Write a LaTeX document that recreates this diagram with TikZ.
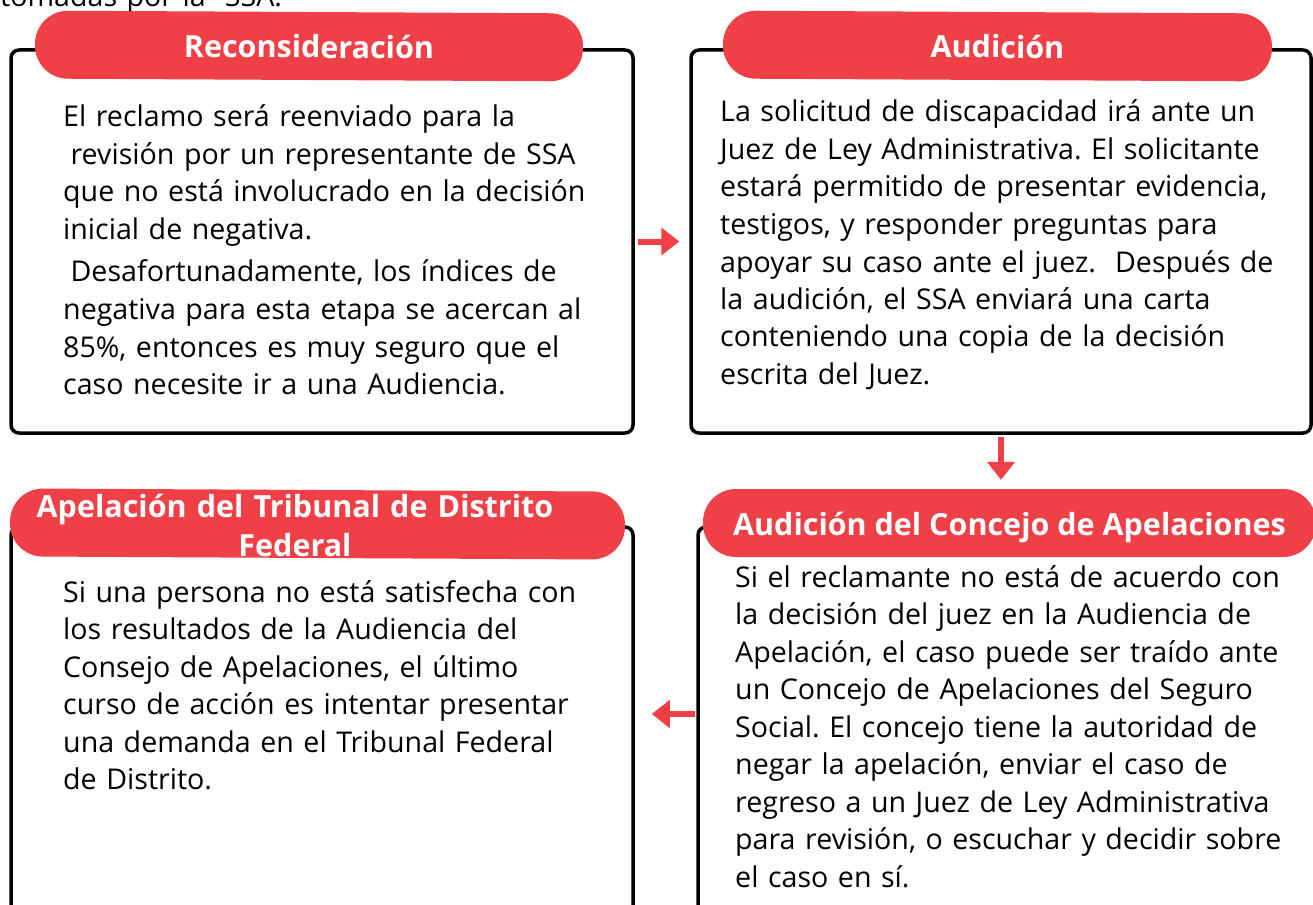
\documentclass[tikz,border=0pt]{standalone}
\usepackage{fontspec}
\setmainfont{Open Sans}
\usetikzlibrary{arrows.meta}
\frenchspacing
\definecolor{pillred}{RGB}{238,64,70}
\tikzstyle{box} = [draw, line width=3.5pt, rounded corners=8pt, inner sep=0pt]
\tikzstyle{pill} = [fill=pillred, rounded corners=33pt, minimum height=68pt, inner sep=0pt, text=white, font=\bfseries\fontsize{30.5}{39}\selectfont, text height=24pt, text depth=0pt]
\tikzstyle{body} = [anchor=base west, inner sep=0pt, text width=600pt, align=left, font=\fontsize{28.6}{37.5}\selectfont]
\tikzstyle{arr} = [draw=pillred, line width=6pt, -{Triangle[width=27pt,length=18pt]}]

\begin{document}
\begin{tikzpicture}[x=1pt,y=-1pt]
    \clip (0,0) rectangle (1313,904);
    \useasboundingbox (0,0) rectangle (1313,904);
    \node[body] (top) at (0,6.5) {tomadas por la~ SSA.};

    % reconsideracion
    \node[box, minimum width=622pt, minimum height=383pt] (rec) at (322,241.5) {};
    \node[pill, minimum width=548pt, rotate=-0.3] (hrec) at (309,46) {Reconsideración};
    \node[body] (trec) at (63,127) {El reclamo será reenviado para la\\
        \hspace*{.26em}revisión por un representante de SSA\\
        que no está involucrado en la decisión\\
        inicial de negativa.\\[5pt]
        \hspace*{.26em}Desafortunadamente, los índices de\\
        negativa para esta etapa se acercan al\\
        85\%, entonces es muy seguro que el\\
        caso necesite ir a una Audiencia.};

    % audicion
    \node[box, minimum width=620pt, minimum height=383pt] (aud) at (1001,241.5) {};
    \node[pill, minimum width=549pt, rotate=-0.3] (haud) at (997.5,46) {Audición};
    \node[body] (taud) at (720,122) {La solicitud de discapacidad irá ante un\\
        Juez de Ley Administrativa. El solicitante\\
        estará permitido de presentar evidencia,\\
        testigos, y responder preguntas para\\
        apoyar su caso ante el juez.~ Después de\\
        la audición, el SSA enviará una carta\\
        conteniendo una copia de la decisión\\
        escrita del Juez.};

    % tribunal federal
    \node[box, minimum width=622pt, minimum height=473pt] (trib) at (322,763.5) {};
    \node[pill, minimum width=615pt, rotate=-0.3] (htrib) at (317.5,524) {};
    \node[anchor=base, inner sep=0pt, text width=620pt, align=center, text=white, font=\bfseries\fontsize{30.5}{39}\selectfont] (ttit) at (295,517) {Apelación del Tribunal de Distrito\\Federal};
    \node[body] (ttrib) at (63,602) {Si una persona no está satisfecha con\\
        los resultados de la Audiencia del\\
        Consejo de Apelaciones, el último\\
        curso de acción es intentar presentar\\
        una demanda en el Tribunal Federal\\
        de Distrito.};

    % concejo de apelaciones
    \node[box, minimum width=660pt, minimum height=473pt] (con) at (1028,763.5) {};
    \node[pill, minimum width=613pt] (hcon) at (1009.5,523) {Audición del Concejo de Apelaciones};
    \node[body] (tcon) at (735,587) {Si el reclamante no está de acuerdo con\\
        la decisión del juez en la Audiencia de\\
        Apelación, el caso puede ser traído ante\\
        un Concejo de Apelaciones del Seguro\\
        Social. El concejo tiene la autoridad de\\
        negar la apelación, enviar el caso de\\
        regreso a un Juez de Ley Administrativa\\
        para revisión, o escuchar y decidir sobre\\
        el caso en sí.};

    \draw [arr, shorten <=3pt, shorten >=10pt] (rec.east) -- (aud.west);
    \draw [arr, shorten <=2pt, shorten >=9pt] (aud.south) -- (aud.south |- hcon.north);
    \draw [arr, shorten <=1pt, shorten >=17pt] ([yshift=49.5pt]con.west) -- ([yshift=49.5pt]trib.east);
\end{tikzpicture}
\end{document}
